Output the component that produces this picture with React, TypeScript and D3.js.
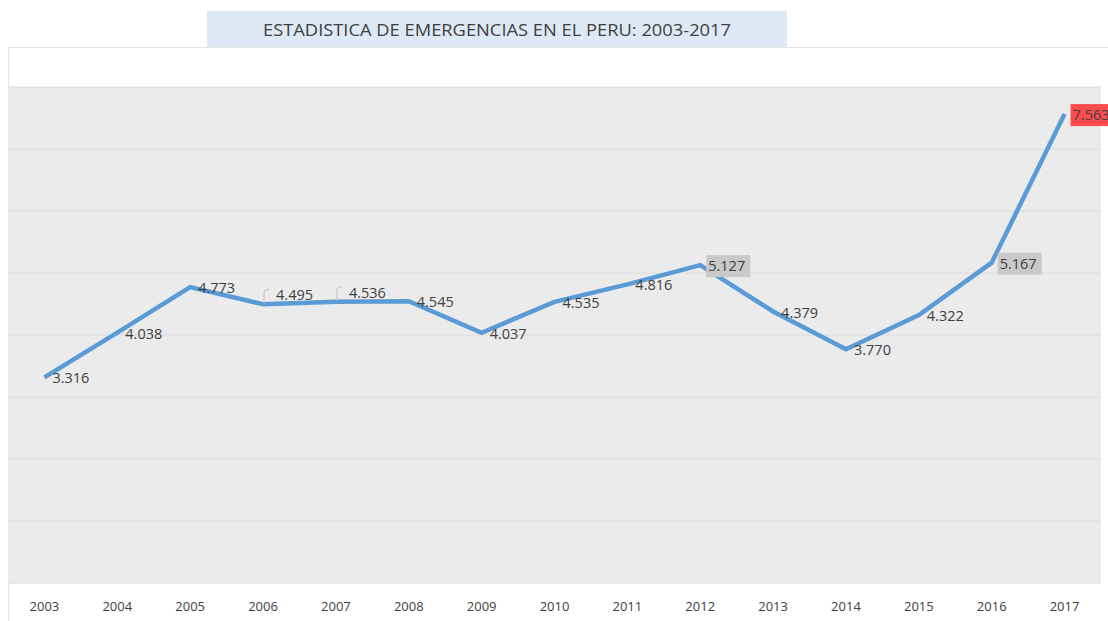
import React from "react";
import * as d3 from "d3";

const years = ["2003","2004","2005","2006","2007","2008","2009","2010","2011","2012","2013","2014","2015","2016","2017"];
const values = [3.316, 4.038, 4.773, 4.495, 4.536, 4.545, 4.037, 4.535, 4.816, 5.127, 4.379, 3.770, 4.322, 5.167, 7.563];
const labelText = ["3.316","4.038","4.773","4.495","4.536","4.545","4.037","4.535","4.816","5.127","4.379","3.770","4.322","5.167","7.563"];
const highlight: Record<string, string> = { "2012": "#c9c9c9", "2016": "#c9c9c9", "2017": "#ff4b4b" };
const raisedLabels = ["2006", "2007"];
const yTicks = [0, 1, 2, 3, 4, 5, 6, 7, 8];
const title = "ESTADISTICA DE EMERGENCIAS EN EL PERU: 2003-2017";

const W = 1108, H = 621;
const plot = { left: 8, right: 1101, top: 87, bottom: 583 };
const FONT = "'Open Sans', 'Liberation Sans', sans-serif";

export default function App() {
  const x = d3.scaleBand<string>().domain(years).range([plot.left, plot.right]);
  const y = d3.scaleLinear().domain([0, 8]).range([plot.bottom, plot.top]);
  const cx = (yr: string) => (x(yr) as number) + x.bandwidth() / 2;
  const line = d3.line<number>().x((_, i) => cx(years[i])).y((v) => y(v));

  return (
    <svg width={W} height={H} style={{ position: "absolute", left: 0, top: 0, background: "#fff" }}>
      <rect x={8.5} y={47.5} width={W + 10} height={H} fill="#fff" stroke="#e3e3e3" />
      <rect x={207} y={11} width={580} height={36} fill="#dde9f5" />
      <text x={497} y={35.5} textAnchor="middle" fontFamily={FONT} fontSize={16} fill="#404040" textLength={468} lengthAdjust="spacingAndGlyphs">{title}</text>
      <rect x={plot.left} y={plot.top} width={plot.right - plot.left} height={plot.bottom - plot.top} fill="#ebebeb" />
      {yTicks.map((t) => (
        <line key={t} x1={plot.left} x2={plot.right} y1={y(t)} y2={y(t)} stroke="#dcdcdc" strokeWidth={1} />
      ))}
      <path d={line(values) || ""} fill="none" stroke="#5b9bd5" strokeWidth={4.5} strokeLinejoin="miter" />
      {years.map((yr) => (
        <text key={yr} x={cx(yr)} y={611} textAnchor="middle" fontFamily={FONT} fontSize={13} fill="#404040">{yr}</text>
      ))}
      {years.map((yr, i) => {
        const px = cx(yr);
        const py = y(values[i]);
        const raised = raisedLabels.includes(yr);
        const lx = px + (highlight[yr] ? 8 : raised ? 13 : 8);
        const ly = py + (raised ? -9 : 1);
        const bg = highlight[yr];
        return (
          <g key={yr}>
            {bg && <rect x={lx - 2} y={ly - 11} width={44} height={22} fill={bg} />}
            {raised && (
              <path d={`M ${px + 1} ${py - 1} L ${px + 1} ${ly - 2} Q ${px + 1} ${ly - 6} ${px + 6} ${ly - 6}`} fill="none" stroke="#bfbfbf" strokeWidth={1} />
            )}
            <text x={lx} y={ly} dy="0.35em" fontFamily={FONT} fontSize={14.5} fill="#404040">{labelText[i]}</text>
          </g>
        );
      })}
    </svg>
  );
}
